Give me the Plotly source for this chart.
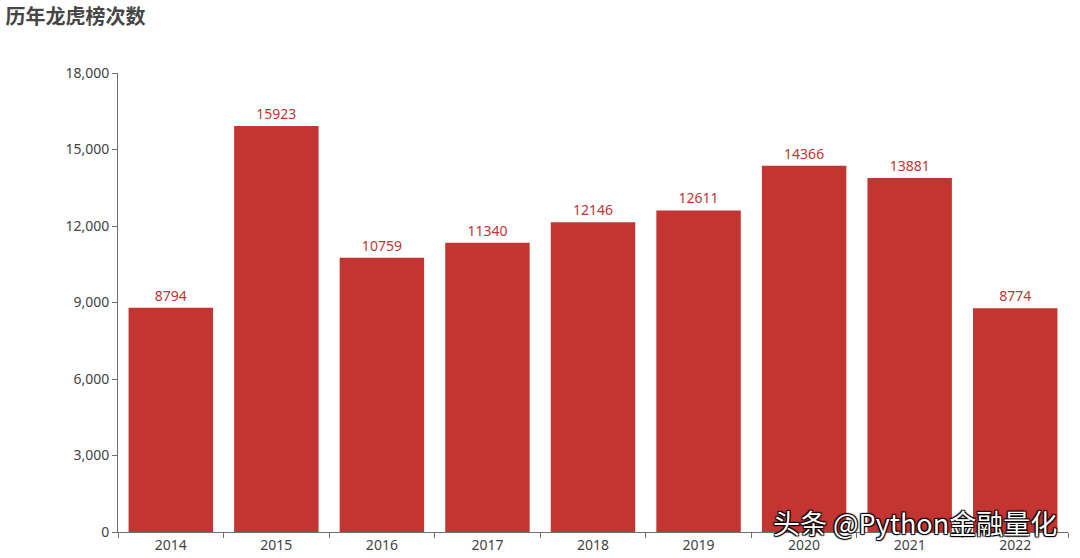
import plotly.graph_objects as go

years = ["2014", "2015", "2016", "2017", "2018", "2019", "2020", "2021", "2022"]
counts = [8794, 15923, 10759, 11340, 12146, 12611, 14366, 13881, 8774]
y_ticks = [0, 3000, 6000, 9000, 12000, 15000, 18000]
y_tick_labels = ["0", "3,000", "6,000", "9,000", "12,000", "15,000", "18,000"]

BAR = "#c23531"
AXIS = "#6E7079"

fig = go.Figure(
    go.Bar(
        x=years,
        y=counts,
        marker=dict(color=BAR, line=dict(width=0)),
        text=[str(v) for v in counts],
        textposition="outside",
        textfont=dict(color=BAR, size=14, family="Noto Sans, sans-serif"),
        cliponaxis=False,
    )
)

fig.update_layout(
    width=1080,
    height=558,
    margin=dict(l=118, r=12, t=73, b=26, autoexpand=False),
    paper_bgcolor="white",
    plot_bgcolor="white",
    bargap=0.2,
    showlegend=False,
    font=dict(family="Noto Sans, sans-serif", color="#444"),
    title=dict(
        text="<b>历年龙虎榜次数</b>",
        x=0.005,
        xanchor="left",
        y=0.97,
        yanchor="middle",
        font=dict(size=20, color="#464646", family="Noto Sans CJK SC, sans-serif"),
    ),
    annotations=[
        dict(
            text="头条 @Python金融量化",
            xref="paper",
            yref="paper",
            x=0.99,
            y=0.02,
            xanchor="right",
            yanchor="middle",
            showarrow=False,
            font=dict(size=27, color="white", family="Noto Sans CJK SC, sans-serif",
                      shadow="1px 1px 1px #000, -1px -1px 1px #000, 1px -1px 1px #000, -1px 1px 1px #000"),
        )
    ],
)

fig.update_xaxes(
    type="category",
    showline=True,
    linecolor=AXIS,
    linewidth=1,
    ticks="outside",
    tickson="boundaries",
    ticklen=5,
    tickcolor=AXIS,
    tickfont=dict(size=14, color="#444"),
    showgrid=False,
)

fig.update_yaxes(
    range=[0, 18000],
    tickvals=y_ticks,
    ticktext=y_tick_labels,
    showline=True,
    linecolor=AXIS,
    linewidth=1,
    ticks="outside",
    ticklen=5,
    tickcolor=AXIS,
    tickfont=dict(size=14, color="#444"),
    showgrid=False,
    zeroline=False,
)

fig.write_html("out.html", config={"displayModeBar": False},
               post_script="document.body.style.margin='0';")
